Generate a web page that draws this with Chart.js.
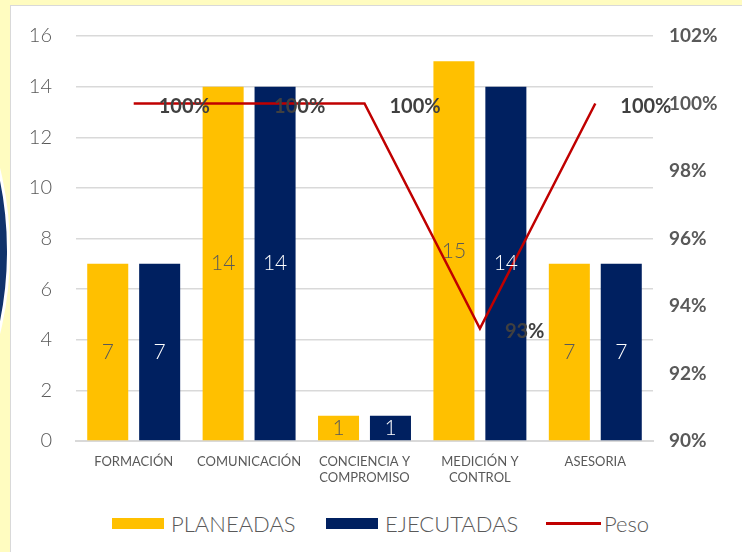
<!DOCTYPE html>
<html lang="es">
<head>
  <meta charset="UTF-8">
  <title>Planeadas vs Ejecutadas</title>
  <script src="https://cdn.jsdelivr.net/npm/chart.js"></script>
  <style>
    body {
      margin: 0;
      width: 742px;
      height: 552px;
      background: #FFFCC0;
      position: relative;
      overflow: hidden;
      font-family: Lato, "Open Sans", sans-serif;
    }

    .blob {
      position: absolute;
      left: -194px;
      top: 58px;
      width: 198px;
      height: 380px;
      border-radius: 50%;
      background: #10336A;
      border: 3px solid #ffffff;
    }

    .panel {
      position: absolute;
      left: 10px;
      top: 5px;
      width: 740px;
      height: 560px;
      background: #ffffff;
      border: 1px solid #d9d9d9;
    }

    .chart-box {
      position: absolute;
      left: 0;
      top: -6px;
      width: 731px;
      height: 505px;
    }

    .legend {
      position: absolute;
      left: 0;
      top: 505px;
      width: 731px;
      height: 24px;
      font-size: 22px;
      font-weight: 300;
      color: #595959;
    }

    .legend span.item {
      position: absolute;
      top: 0;
      display: flex;
      align-items: center;
      height: 24px;
      white-space: nowrap;
    }

    .legend i {
      display: inline-block;
      width: 52px;
      margin-right: 7px;
    }
  </style>
</head>
<body>
  <div class="blob"></div>
  <div class="panel">
    <div class="chart-box">
      <canvas id="chart"></canvas>
    </div>
    <div class="legend">
      <span class="item" style="left:101px"><i style="height:11px;background:#FFC000"></i>PLANEADAS</span>
      <span class="item" style="left:315px"><i style="height:11px;background:#002060"></i>EJECUTADAS</span>
      <span class="item" style="left:535px"><i style="height:3px;background:#C00000;width:55px;margin-right:3px"></i>Peso</span>
    </div>
  </div>

  <script>
    // data
    const categories = ['FORMACIÓN', 'COMUNICACIÓN', ['CONCIENCIA Y', 'COMPROMISO'], ['MEDICIÓN Y', 'CONTROL'], 'ASESORIA'];
    const planeadas = [7, 14, 1, 15, 7];
    const ejecutadas = [7, 14, 1, 14, 7];
    const peso = [100, 100, 100, 93.33, 100];
    const leftTicks = [0, 2, 4, 6, 8, 10, 12, 14, 16];
    const rightTicks = [90, 92, 94, 96, 98, 100, 102];

    // value labels for bars and line
    const valueLabels = {
      id: 'valueLabels',
      afterDatasetsDraw(chart) {
        const ctx = chart.ctx;
        ctx.save();
        chart.data.datasets.forEach((ds, i) => {
          const meta = chart.getDatasetMeta(i);
          meta.data.forEach((el, j) => {
            const v = ds.data[j];
            if (ds.type === 'line') {
              ctx.font = 'bold 20px Lato, sans-serif';
              ctx.fillStyle = '#404040';
              ctx.textAlign = 'left';
              ctx.textBaseline = 'middle';
              ctx.fillText(Math.round(v) + '%', el.x + 25, el.y + 3);
            } else {
              ctx.font = '300 21px Lato, sans-serif';
              ctx.fillStyle = ds.labelColor;
              ctx.textAlign = 'center';
              ctx.textBaseline = 'middle';
              ctx.fillText(v, el.x, (el.y + el.base) / 2);
            }
          });
        });
        ctx.restore();
      }
    };

    new Chart(document.getElementById('chart'), {
      data: {
        labels: categories,
        datasets: [
          {
            type: 'bar',
            label: 'PLANEADAS',
            data: planeadas,
            backgroundColor: '#FFC000',
            labelColor: '#595959',
            barPercentage: 0.79,
            categoryPercentage: 0.9,
            yAxisID: 'y',
            order: 2
          },
          {
            type: 'bar',
            label: 'EJECUTADAS',
            data: ejecutadas,
            backgroundColor: '#002060',
            labelColor: '#ffffff',
            barPercentage: 0.79,
            categoryPercentage: 0.9,
            yAxisID: 'y',
            order: 2
          },
          {
            type: 'line',
            label: 'Peso',
            data: peso,
            borderColor: '#C00000',
            borderWidth: 2.5,
            pointRadius: 0,
            tension: 0,
            yAxisID: 'y1',
            order: 1
          }
        ]
      },
      options: {
        responsive: true,
        maintainAspectRatio: false,
        animation: false,
        layout: { padding: { top: 23, left: 0, right: 0, bottom: 0 } },
        plugins: {
          legend: { display: false },
          tooltip: { enabled: false }
        },
        scales: {
          x: {
            grid: { display: false },
            border: { color: '#d9d9d9', width: 2 },
            ticks: {
              color: '#595959',
              font: { family: 'Lato', size: 13 },
              padding: 5,
              maxRotation: 0,
              autoSkip: false
            },
            afterFit(scale) { scale.height = 64; }
          },
          y: {
            position: 'left',
            min: 0,
            max: 16,
            afterBuildTicks(scale) { scale.ticks = leftTicks.map(v => ({ value: v })); },
            grid: { color: '#d9d9d9', lineWidth: 1.5, drawTicks: false },
            border: { display: false },
            ticks: {
              color: '#595959',
              font: { family: 'Lato', size: 20, weight: '300' },
              padding: 24
            },
            afterFit(scale) { scale.width = 65; }
          },
          y1: {
            position: 'right',
            min: 90,
            max: 102,
            afterBuildTicks(scale) { scale.ticks = rightTicks.map(v => ({ value: v })); },
            grid: { display: false, drawTicks: false },
            border: { display: false },
            ticks: {
              color: '#595959',
              font: { family: 'Lato', size: 19, weight: 'bold' },
              padding: 16,
              callback: v => v + '%'
            },
            afterFit(scale) { scale.width = 89; }
          }
        }
      },
      plugins: [valueLabels]
    });
  </script>
</body>
</html>
